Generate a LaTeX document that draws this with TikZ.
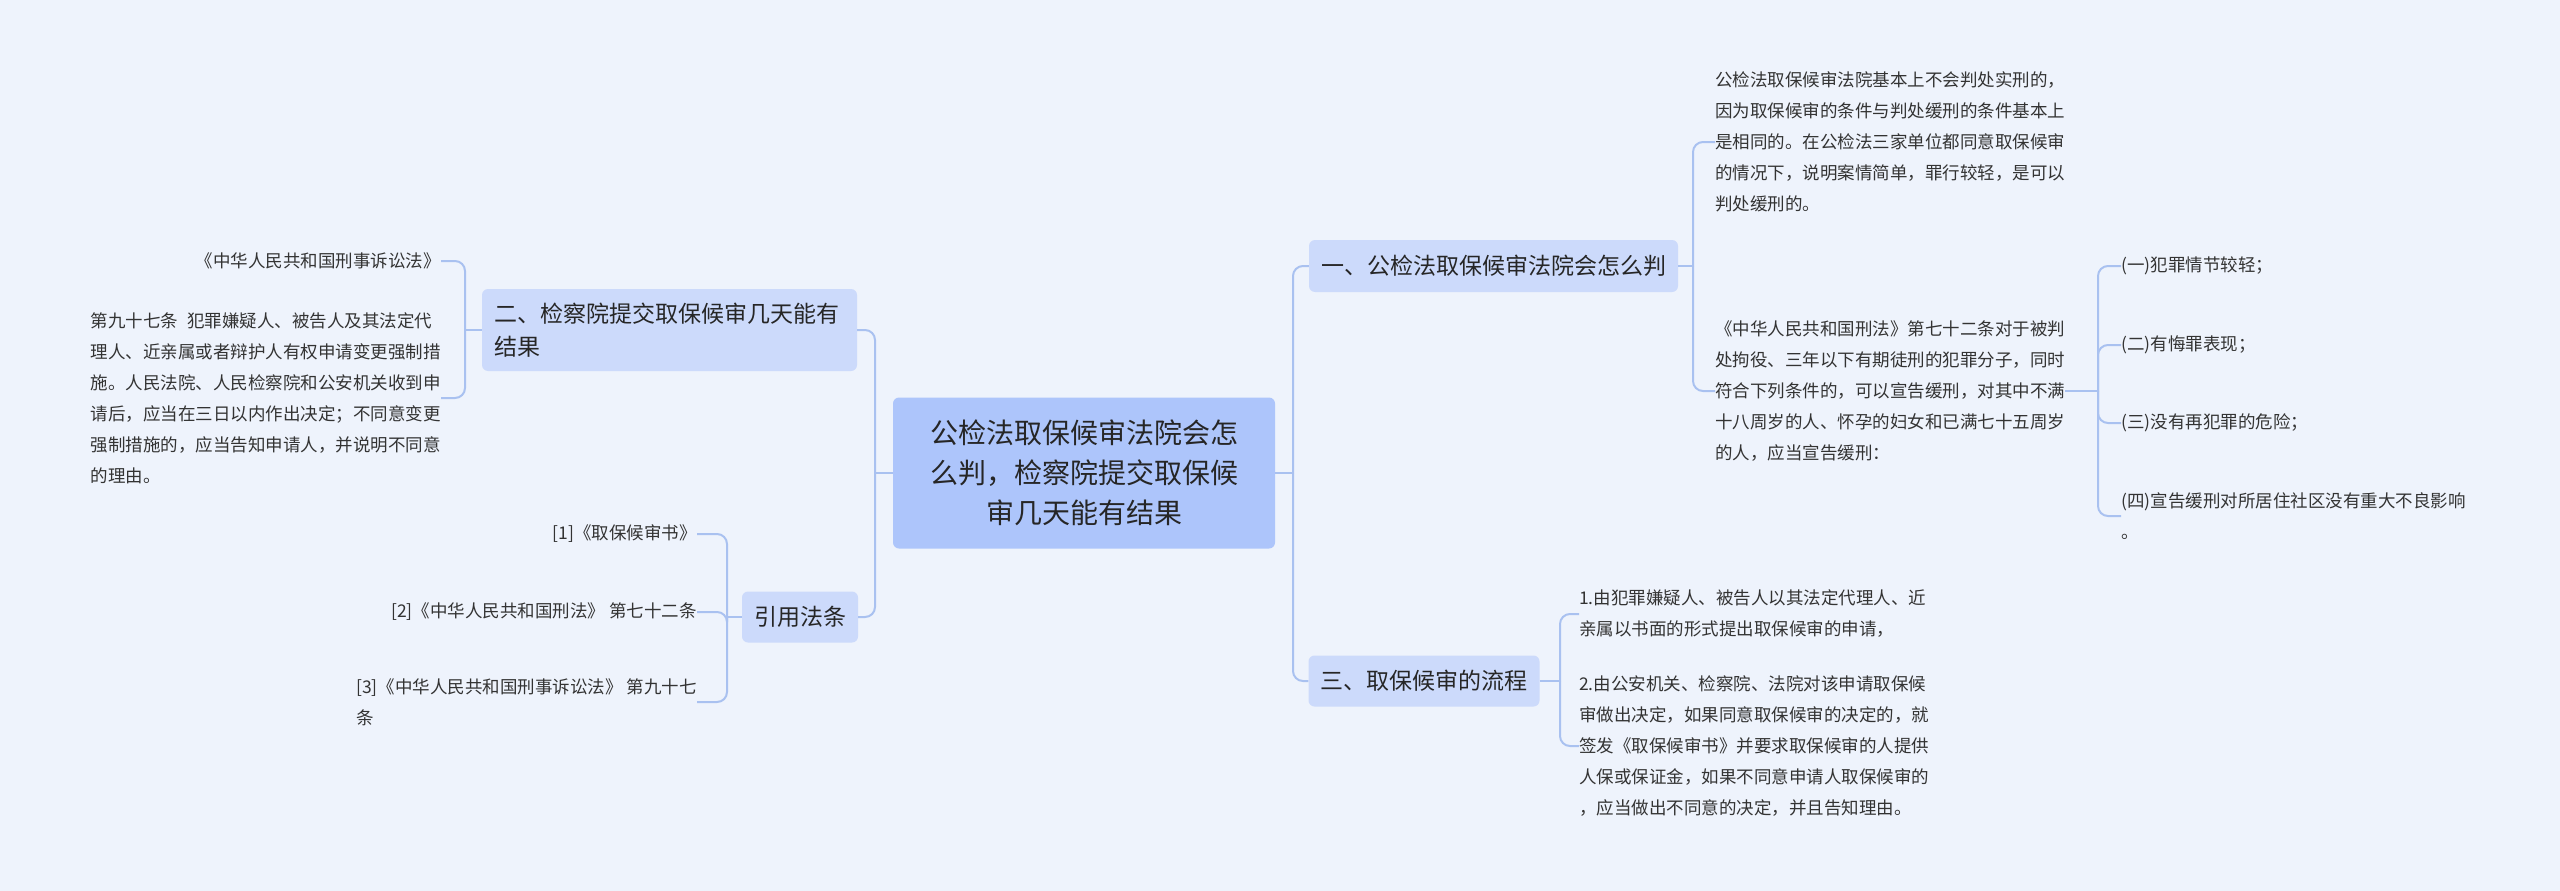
\documentclass[tikz,border=0pt]{standalone}
\usepackage{fontspec}
\setmainfont{Noto Sans CJK SC}
\begin{document}
\begin{tikzpicture}[x=1pt,y=-1pt,
  conn/.style={draw=lineblue,line width=2pt,rounded corners=10pt},
  rootbox/.style={fill=rootblue,rounded corners=6pt,minimum width=382pt,minimum height=151pt,align=center,font=\fontsize{28}{40}\selectfont,text=black!85},
  branch/.style={fill=branchblue,rounded corners=6pt,inner xsep=12pt,align=left,font=\fontsize{23}{33}\selectfont,text=black!85},
  leaf/.style={inner sep=0pt,font=\fontsize{17.5}{31}\selectfont,text=black!80}]
\definecolor{bg}{HTML}{EEF3FC}
\definecolor{lineblue}{HTML}{A9C1F0}
\definecolor{rootblue}{HTML}{ADC5FB}
\definecolor{branchblue}{HTML}{CCDAFB}
\fill[bg] (0,0) rectangle (2560,891);
\useasboundingbox (0,0) rectangle (2560,891);

\node[rootbox] (root) at (1084,473) {公检法取保候审法院会怎\\么判，检察院提交取保候\\审几天能有结果};

\node[branch,minimum width=367pt,minimum height=52pt] (b1) at (1493.5,266) {一、公检法取保候审法院会怎么判};
\node[branch,minimum width=228pt,minimum height=51pt] (b3) at (1424,681) {三、取保候审的流程};
\node[branch,minimum width=375pt,minimum height=82pt,text width=351pt] (b2) at (669.5,330) {二、检察院提交取保候审几天能有\\结果};
\node[branch,minimum width=114pt,minimum height=51pt] (b4) at (800,617) {引用法条};

% right leaves
\node[leaf,anchor=west,align=left] (t1) at (1715,142) {公检法取保候审法院基本上不会判处实刑的，\\因为取保候审的条件与判处缓刑的条件基本上\\是相同的。在公检法三家单位都同意取保候审\\的情况下，说明案情简单，罪行较轻，是可以\\判处缓刑的。};
\node[leaf,anchor=west,align=left] (t2) at (1715,391) {《中华人民共和国刑法》第七十二条对于被判\\处拘役、三年以下有期徒刑的犯罪分子，同时\\符合下列条件的，可以宣告缓刑，对其中不满\\十八周岁的人、怀孕的妇女和已满七十五周岁\\的人，应当宣告缓刑：};
\node[leaf,anchor=west] (c1) at (2121,266) {(一)犯罪情节较轻；};
\node[leaf,anchor=west] (c2) at (2121,345) {(二)有悔罪表现；};
\node[leaf,anchor=west] (c3) at (2121,423) {(三)没有再犯罪的危险；};
\node[leaf,anchor=west,align=left] (c4) at (2121,516) {(四)宣告缓刑对所居住社区没有重大不良影响\\。};
\node[leaf,anchor=west,align=left] (p1) at (1579,614) {1.由犯罪嫌疑人、被告人以其法定代理人、近\\亲属以书面的形式提出取保候审的申请，};
\node[leaf,anchor=west,align=left] (p2) at (1579,746) {2.由公安机关、检察院、法院对该申请取保候\\审做出决定，如果同意取保候审的决定的，就\\签发《取保候审书》并要求取保候审的人提供\\人保或保证金，如果不同意申请人取保候审的\\，应当做出不同意的决定，并且告知理由。};

% left leaves
\node[leaf,anchor=east] (l1) at (441,261) {《中华人民共和国刑事诉讼法》};
\node[leaf,anchor=east,align=left] (l2) at (441,398) {第九十七条\enspace 犯罪嫌疑人、被告人及其法定代\\理人、近亲属或者辩护人有权申请变更强制措\\施。人民法院、人民检察院和公安机关收到申\\请后，应当在三日以内作出决定；不同意变更\\强制措施的，应当告知申请人，并说明不同意\\的理由。};
\node[leaf,anchor=east] (r1) at (697,534) {[1]《取保候审书》};
\node[leaf,anchor=east] (r2) at (697,612) {[2]《中华人民共和国刑法》 第七十二条};
\node[leaf,anchor=east,align=left] (r3) at (697,702) {[3]《中华人民共和国刑事诉讼法》 第九十七\\条};

% connectors
\coordinate (jr) at (1293,473);
\coordinate (jl) at (875,473);
\draw[conn] (root.east) -- (jr);
\draw[conn] (jr) |- (b1.west);
\draw[conn] (jr) |- (b3.west);
\draw[conn] (root.west) -- (jl);
\draw[conn] (jl) |- (b2.east);
\draw[conn] (jl) |- (b4.east);

\coordinate (j1) at (1693,266);
\draw[conn] (b1.east) -- (j1);
\draw[conn] (j1) |- (t1.west);
\draw[conn] (j1) |- (t2.west);

\coordinate (j2) at (2098,391);
\draw[conn] (t2.east) -- (j2);
\foreach \c in {c1,c2,c3,c4} \draw[conn] (j2) |- (\c.west);

\coordinate (j3) at (1560,681);
\draw[conn] (b3.east) -- (j3);
\draw[conn] (j3) |- (p1.west);
\draw[conn] (j3) |- (p2.west);

\coordinate (j4) at (465,330);
\draw[conn] (b2.west) -- (j4);
\draw[conn] (j4) |- (l1.east);
\draw[conn] (j4) |- (l2.east);

\coordinate (j5) at (727,617);
\draw[conn] (b4.west) -- (j5);
\foreach \c in {r1,r2,r3} \draw[conn] (j5) |- (\c.east);
\end{tikzpicture}
\end{document}
